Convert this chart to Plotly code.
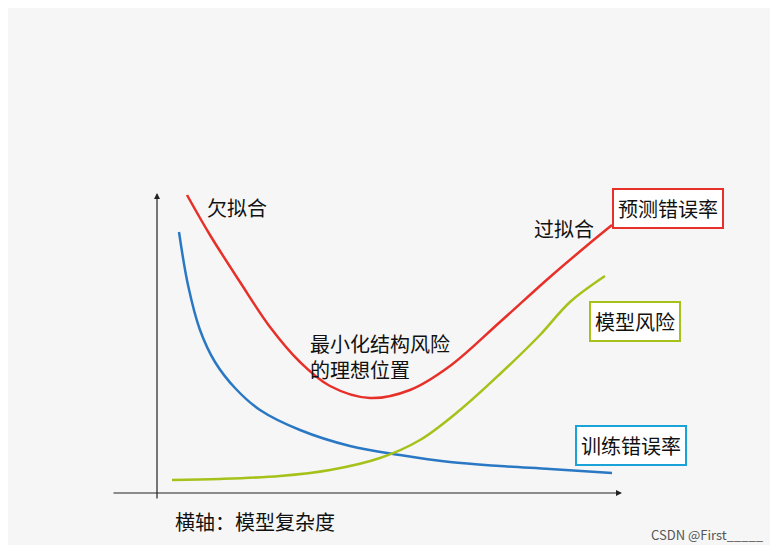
import plotly.graph_objects as go

# curve samples (pixel-like units, y grows downward)
red_x = [187, 210, 240, 270, 300, 330, 370, 410, 450, 500, 550, 590, 612]
red_y = [195, 235, 282, 327, 362, 386, 398, 390, 366, 322, 277, 243, 225]
blue_x = [179, 188, 200, 215, 235, 260, 300, 350, 400, 450, 500, 550, 612]
blue_y = [232, 285, 330, 362, 388, 410, 430, 446, 455, 462, 466, 469, 473]
green_x = [172, 220, 280, 330, 380, 420, 460, 500, 540, 570, 605]
green_y = [480, 479, 476, 470, 458, 440, 410, 374, 335, 302, 276]

RED, BLUE, GREEN = '#e8302a', '#2a78c4', '#a5c21a'
FONT = 'Noto Sans CJK SC'

fig = go.Figure()
for xs, ys, c in [(red_x, red_y, RED), (blue_x, blue_y, BLUE), (green_x, green_y, GREEN)]:
    fig.add_trace(go.Scatter(x=xs, y=ys, mode='lines',
                             line=dict(color=c, width=2.5, shape='spline'),
                             hoverinfo='skip'))

ann = []
# axes arrows
ann.append(dict(x=157, y=193, ax=157, ay=500, xref='x', yref='y', axref='x', ayref='y',
                showarrow=True, arrowhead=2, arrowsize=1, arrowwidth=1.2, arrowcolor='#222', text=''))
ann.append(dict(x=622, y=493, ax=112, ay=493, xref='x', yref='y', axref='x', ayref='y',
                showarrow=True, arrowhead=2, arrowsize=1, arrowwidth=1.2, arrowcolor='#222', text=''))

def label(x, y, t, size=20, color='#111', anchor='left', **kw):
    ann.append(dict(x=x, y=y, xref='x', yref='y', text=t, showarrow=False, xanchor=anchor,
                    font=dict(family=FONT, size=size, color=color), **kw))

label(3, 27, '<b>过拟合与模型选择</b>', size=33, color='#000')
label(205, 207, '欠拟合')
label(532, 228, '过拟合')
label(308, 356, '最小化结构风险<br>的理想位置', align='left')
label(173, 521, '横轴：模型复杂度')
label(766, 534, 'CSDN @First_____', size=13, color='#555', anchor='right')
label(612, 208, '预测错误率', bordercolor=RED, borderwidth=2, borderpad=4, bgcolor='white')
label(589, 321, '模型风险', bordercolor=GREEN, borderwidth=2, borderpad=4, bgcolor='white')
label(575, 445, '训练错误率', bordercolor='#1aa3d8', borderwidth=2, borderpad=4, bgcolor='white')

# page body has an 8px margin, so shrink the figure and shift the ranges to keep pixel mapping
fig.update_layout(
    width=762, height=537, margin=dict(l=0, r=0, t=0, b=0),
    paper_bgcolor='#f6f6f6', plot_bgcolor='#f6f6f6', showlegend=False,
    xaxis=dict(range=[8, 770], visible=False, fixedrange=True),
    yaxis=dict(range=[545, 8], visible=False, fixedrange=True),
    annotations=ann,
)
fig.write_html("out.html")
